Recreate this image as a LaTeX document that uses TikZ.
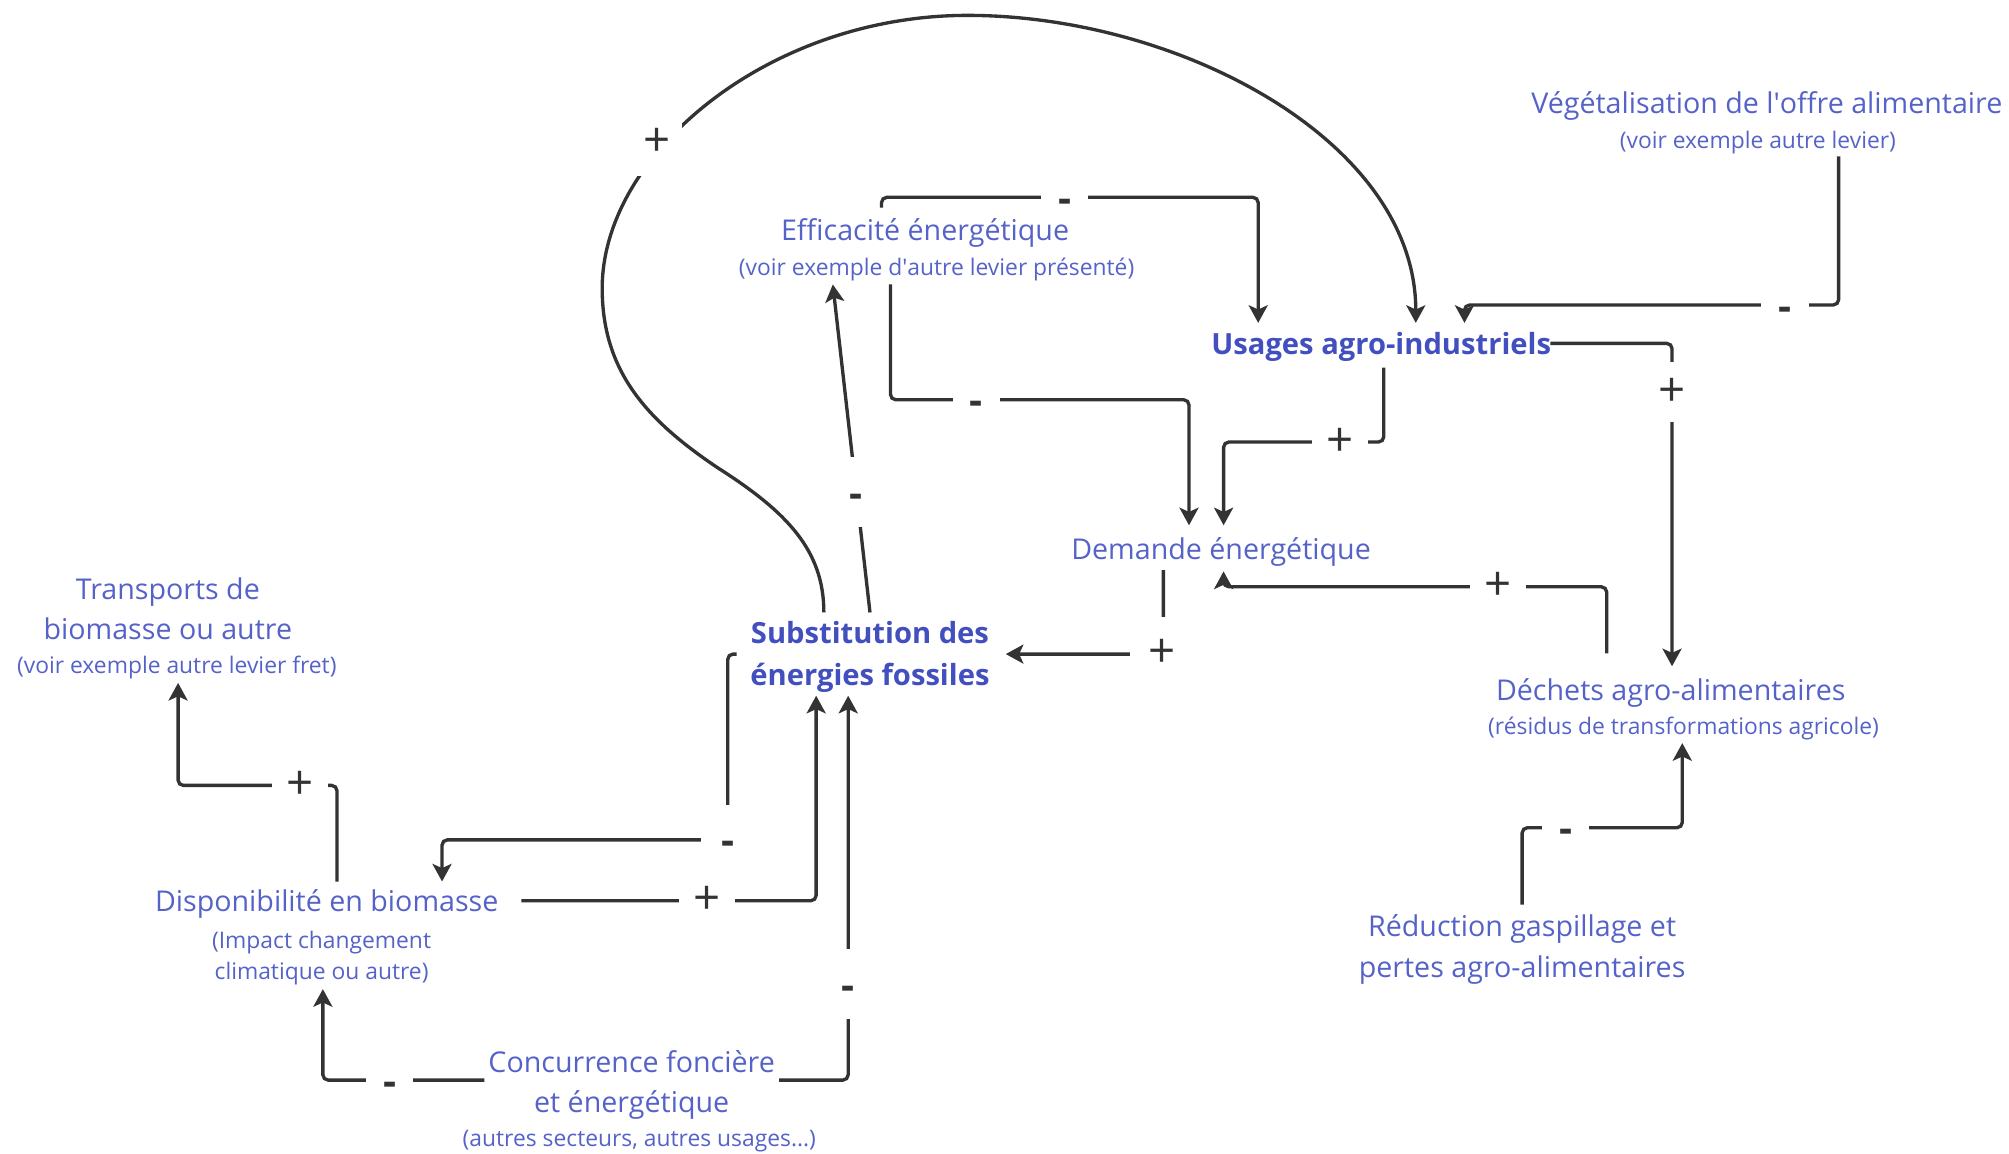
\documentclass[tikz,border=0pt]{standalone}
\usepackage{fontspec}
\setmainfont{Open Sans}
\usetikzlibrary{arrows.meta,calc}
\definecolor{txt}{RGB}{85,98,200}
\definecolor{txtb}{RGB}{66,79,190}
\definecolor{ln}{RGB}{51,51,51}
\begin{document}
\begin{tikzpicture}[x=0.012813cm,y=-0.012813cm,
  main/.style={text=txt, font=\fontsize{8.15}{11.5}\selectfont, inner sep=0pt, align=center},
  subt/.style={text=txt, font=\fontsize{6.5}{8.75}\selectfont, inner sep=0pt, align=center},
  boldt/.style={text=txtb, font=\bfseries\fontsize{8.3}{12}\selectfont, inner sep=0pt, align=center},
  link/.style={draw=ln, line width=0.95pt, rounded corners=1.5pt, -{Stealth[length=5pt,width=5.4pt,inset=1.2pt]}},
  curvelink/.style={draw=ln, line width=0.95pt, -{Stealth[length=5pt,width=5.4pt,inset=1.2pt]}},
  pl/.style={fill=white, text=ln, inner sep=0pt, minimum width=16pt, minimum height=9pt, font=\fontsize{13.5}{13.5}\selectfont},
  mn/.style={fill=white, text=ln, inner sep=0pt, minimum width=13.5pt, minimum height=6pt, font=\bfseries\fontsize{11.5}{11.5}\selectfont},
]
\useasboundingbox (0,0) rectangle (1568,900);
\newcommand{\mns}{\smash{\raisebox{-4.3pt}{-}}}

% nodes
\node[main] (veg) at (1379,82.5) {Végétalisation de l\textquotesingle offre alimentaire};
\node[subt] (vegs) at (1372,111.5) {(voir exemple autre levier)};
\node[main] (eff) at (722,181.5) {Efficacité énergétique};
\node[subt] (effs) at (731,210.5) {(voir exemple d\textquotesingle autre levier présenté)};
\node[boldt] (usg) at (1078,270.5) {Usages agro-industriels};
\node[main] (dem) at (953,430.5) {Demande énergétique};
\node[boldt] (sub) at (679,513) {Substitution des\\énergies fossiles};
\node[main] (tra) at (131,475) {Transports de\\biomasse ou autre};
\node[subt] (tras) at (138,521) {(voir exemple autre levier fret)};
\node[main] (dis) at (255,705.5) {Disponibilité en biomasse};
\node[subt] (diss) at (251,747.5) {(Impact changement\\climatique ou autre)};
\node[main] (con) at (493,847) {Concurrence foncière\\et énergétique};
\node[subt] (cons) at (499,890.5) {(autres secteurs, autres usages...)};
\node[main] (dec) at (1304,540.5) {Déchets agro-alimentaires};
\node[subt] (decs) at (1314,568.5) {(résidus de transformations agricole)};
\node[main] (red) at (1188,741) {Réduction gaspillage et\\pertes agro-alimentaires};

% connectors
\draw[curvelink] ($(sub.center)+(-36,-35)$) .. controls (643,430) and (615,400) .. (560,365)
  .. controls (505,328) and (470,290) .. (470,225)
  .. controls (470,120) and (600,12) .. (755,12)
  .. controls (920,12) and (1105,110) .. ($(usg.center)+(27,-18.5)$);
\draw[link] ($(eff.center)+(-34,-19.5)$) -- ++(0,-8) -| ($(usg.center)+(-96,-18.5)$);
\draw[link] ($(sub.center)+(0,-35)$) -- ($(effs.center)+(-81,11.5)$);
\draw[link] ($(effs.center)+(-36,11.5)$) -- ++(0,90) -| ($(dem.center)+(-25,-20.5)$);
\draw[link] ($(usg.center)+(2,16.5)$) -- ++(0,58) -| ($(dem.center)+(2,-20.5)$);
\draw[link] ($(vegs.center)+(63,10.5)$) -- ++(0,116) -| ($(usg.center)+(65,-18.5)$);
\draw[link] ($(usg.center)+(132,-2.5)$) -| ($(dec.center)+(1,-20.5)$);
\draw[link] ($(dec.center)+(-50,-30.5)$) -- ++(0,-52) -| ($(dem.center)+(2,15.5)$);
\draw[link] ($(dem.center)+(-45,14.5)$) |- ($(sub.center)+(106,-2.5)$);
\draw[link] ($(sub.center)+(-104,-2.5)$) -- ++(-7,0) -- ++(0,145) -| ($(dis.center)+(90,-17.5)$);
\draw[link] ($(dis.center)+(152,-2.5)$) -| ($(sub.center)+(-42,30)$);
\draw[link] ($(con.center)+(115,-4)$) -| ($(sub.center)+(-17,30)$);
\draw[link] ($(con.center)+(-115,-4)$) -| ($(diss.center)+(1,24.5)$);
\draw[link] ($(dis.center)+(8,-17.5)$) -- ++(0,-75) -| ($(tras.center)+(1,12)$);
\draw[link] ($(red.center)+(0,-35)$) -- ++(0,-60) -| ($(decs.center)+(-1,11.5)$);

% polarity labels
\node[pl, minimum width=14pt, minimum height=19pt] (pA) at (513,111) {+};
\node[mn] (mB) at (831,154) {\mns};
\node[mn, minimum height=20pt] (mC) at (668,384) {\mns};
\node[mn] (mD) at (762,312) {\mns};
\node[pl] (pE) at (1046,345) {+};
\node[mn] (mF) at (1393,238) {\mns};
\node[pl, minimum height=17pt] (pG) at (1305,306) {+};
\node[pl, minimum width=18pt, minimum height=20.5pt] (pI) at (907,510) {+};
\node[mn, minimum width=15pt, minimum height=19.7pt] (mJ) at (568,655) {\mns};
\node[pl] (pK) at (552,703) {+};
\node[mn, minimum height=20pt] (mL) at (662,768) {\mns};
\node[mn] (mM) at (304,843) {\mns};
\node[pl] (pN) at (234,613) {+};
\node[mn] (mO) at (1222,646) {\mns};
\node[pl] (pH) at (1169,458) {+};
\end{tikzpicture}
\end{document}
